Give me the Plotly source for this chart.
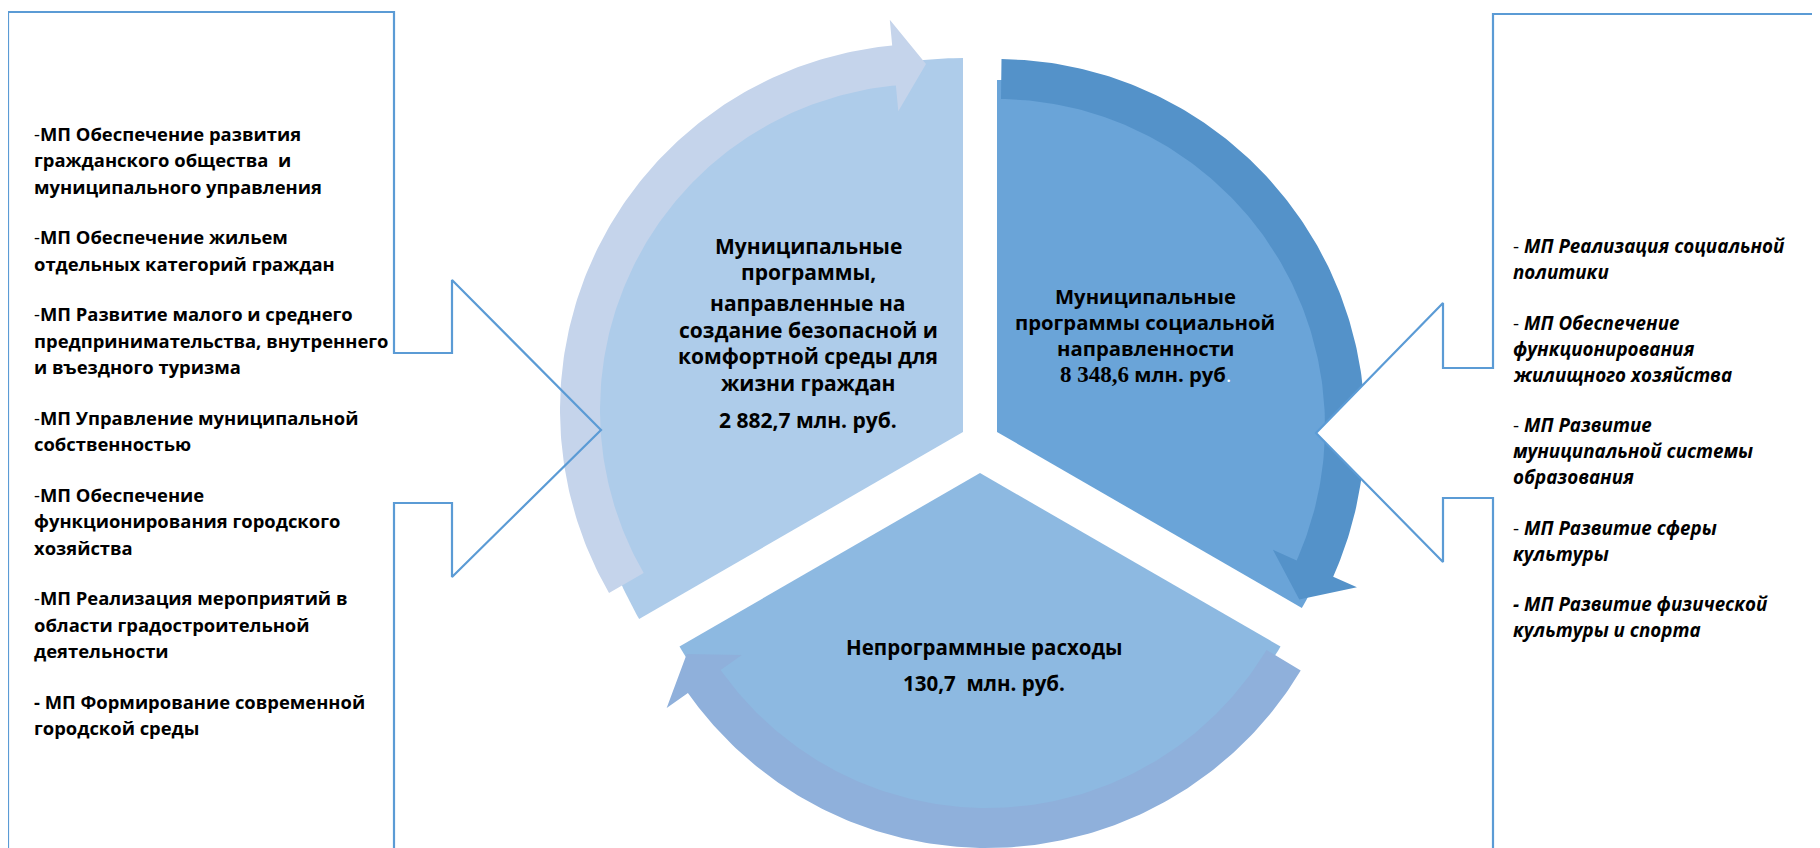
import numpy as np
import plotly.graph_objects as go

W, H = 1820, 848

# ---------------- data ----------------
sector_names = [
    "Муниципальные программы, направленные на создание безопасной и комфортной среды для жизни граждан",
    "Муниципальные программы социальной направленности",
    "Непрограммные расходы",
]
sector_amounts = [2882.7, 8348.6, 130.7]  # млн. руб.
amount_unit = "млн. руб."

left_title_lines = [["Муниципальные", "программы,"],
                    ["направленные на", "создание безопасной и", "комфортной среды для", "жизни граждан"]]
right_title_lines = ["Муниципальные", "программы социальной", "направленности"]
bottom_title_lines = ["Непрограммные расходы"]

left_programs = [
    ["МП Обеспечение развития", "гражданского общества\u00a0\u00a0и", "муниципального управления"],
    ["МП Обеспечение жильем", "отдельных категорий граждан"],
    ["МП Развитие малого и среднего", "предпринимательства, внутреннего", "и въездного туризма"],
    ["МП Управление муниципальной", "собственностью"],
    ["МП Обеспечение", "функционирования городского", "хозяйства"],
    ["МП Реализация мероприятий в", "области градостроительной", "деятельности"],
    ["МП Формирование современной", "городской среды"],
]
right_programs = [
    ["МП Реализация социальной", "политики"],
    ["МП Обеспечение", "функционирования", "жилищного хозяйства"],
    ["МП Развитие", "муниципальной системы", "образования"],
    ["МП Развитие сферы", "культуры"],
    ["МП Развитие физической", "культуры и спорта"],
]


def fmt(v):
    return f"{v:,.1f}".replace(",", " ").replace(".", ",")


# ---------------- styles / geometry ----------------
FONT = "Open Sans"
SERIF = "Liberation Serif"
C_LINE = "#5B9BD5"
fills = ["#AECCEA", "#6AA4D8", "#8DB9E1"]
bands = ["#C5D4EB", "#5492C9", "#8FB0DB"]
OX, OY = 8, 8  # view offset


def arc(cx, cy, r, t0, t1, n=160):
    t = np.radians(np.linspace(t0, t1, n))
    return list(cx + r * np.sin(t)), list(cy - r * np.cos(t))


def pt(cx, cy, r, t):
    t = np.radians(t)
    return cx + r * np.sin(t), cy - r * np.cos(t)


def wedge(ax, ay, r, t0, t1):
    xs, ys = arc(ax, ay, r, t0, t1)
    return [ax] + xs + [ax], [ay] + ys + [ay]


def arrow(cx, cy, rin, rout, t_tail, t_base, t_tip, hw):
    xo, yo = arc(cx, cy, rout, t_tail, t_base)
    rm = (rin + rout) / 2
    w1 = pt(cx, cy, rm + hw, t_base)
    tip = pt(cx, cy, rm, t_tip)
    w2 = pt(cx, cy, rm - hw, t_base)
    xi, yi = arc(cx, cy, rin, t_base, t_tail)
    xs = xo + [w1[0], tip[0], w2[0]] + xi + [xo[0]]
    ys = yo + [w1[1], tip[1], w2[1]] + yi + [yo[0]]
    return xs, ys


fig = go.Figure()

wedge_geo = [((963, 432), 374, 240, 360), ((997, 432), 352, 0, 120), ((980, 473), 347, 120, 240)]
arrow_geo = [
    ((926, 410), 326, 366, 240, 354.7, 360, 46),
    ((997, 427), 328, 368, 0.7, 114, 119.7, 46),
    ((987, 482), 326, 366, 121, 234.8, 240.2, 46),
]
order = [0, 2, 1]
for i in order:
    (ax, ay), r, t0, t1 = wedge_geo[i]
    xs, ys = wedge(ax, ay, r, t0, t1)
    fig.add_trace(go.Scatter(x=xs, y=ys, mode="lines", fill="toself", fillcolor=fills[i],
                             line=dict(width=0), hoverinfo="skip", showlegend=False))
for i in order:
    (cx, cy), rin, rout, a, b, c, hw = arrow_geo[i]
    xs, ys = arrow(cx, cy, rin, rout, a, b, c, hw)
    fig.add_trace(go.Scatter(x=xs, y=ys, mode="lines", fill="toself", fillcolor=bands[i],
                             line=dict(width=0), hoverinfo="skip", showlegend=False))

# callout boxes
left_box = ([8, 8, 394, 394, 452, 452, 601, 452, 452, 394, 394, 8],
            [850, 12, 12, 353, 353, 280, 430, 577, 503, 503, 850, 850])
right_box = ([1840, 1493, 1493, 1443, 1443, 1316, 1443, 1443, 1493, 1493],
             [14, 14, 368, 368, 303, 433, 562, 498, 498, 870])
fig.add_trace(go.Scatter(x=left_box[0], y=left_box[1], mode="lines",
                         line=dict(color=C_LINE, width=2.2), hoverinfo="skip", showlegend=False))
fig.add_trace(go.Scatter(x=right_box[0], y=right_box[1], mode="lines", fill="toself", fillcolor="white",
                         line=dict(color=C_LINE, width=2.2), hoverinfo="skip", showlegend=False))

ann = []


def txt(x, y, s, size=20, anchor="center", family=FONT):
    ann.append(dict(x=x, y=y, xref="x", yref="y", text=s, showarrow=False, xanchor=anchor,
                    yanchor="middle", font=dict(family=family, size=size, color="black")))


# left segment text
ys_left = [[246, 272], [303, 330, 356, 383]]
for block, yy in zip(left_title_lines, ys_left):
    for line, y in zip(block, yy):
        txt(808, y, f"<b>{line}</b>", size=21)
txt(808, 420, f"<b>{fmt(sector_amounts[0])} {amount_unit}</b>", size=21)

# right segment text
for line, y in zip(right_title_lines, [296, 322, 348]):
    txt(1145, y, f"<b>{line}</b>", size=20.3)
txt(1145, 374,
    f"<b><span style=\"font-family:{SERIF};font-size:23px\">{fmt(sector_amounts[1])}</span>"
    f" {amount_unit.rstrip('.')}</b><span style=\"color:white\">.</span>", size=20.3)

# bottom segment text
txt(984, 647, f"<b>{bottom_title_lines[0]}</b>", size=20.5)
txt(984, 683, f"<b>{fmt(sector_amounts[2])}\u00a0\u00a0{amount_unit}</b>", size=20.5)

# left list
y = 133
for k, item in enumerate(left_programs):
    for j, line in enumerate(item):
        if j == 0:
            s = ("<b>- " if k == len(left_programs) - 1 else "-<b>") + line + "</b>"
        else:
            s = f"<b>{line}</b>"
        txt(32, y, s, size=18.4, anchor="left")
        y += 26.5
    y += 24

# right list
y = 246
for k, item in enumerate(right_programs):
    for j, line in enumerate(item):
        if j == 0:
            s = ("<b><i>- " if k == len(right_programs) - 1 else "- <b><i>") + line + "</i></b>"
        else:
            s = f"<b><i>{line}</i></b>"
        txt(1511, y, s, size=18.8, anchor="left")
        y += 26
    y += 24.5

fig.update_layout(
    width=W, height=H, margin=dict(l=0, r=0, t=0, b=0),
    paper_bgcolor="white", plot_bgcolor="white",
    xaxis=dict(range=[OX, W + OX], visible=False, fixedrange=True),
    yaxis=dict(range=[H + OY, OY], visible=False, fixedrange=True),
    annotations=ann, showlegend=False,
)
fig.write_html("out.html")
